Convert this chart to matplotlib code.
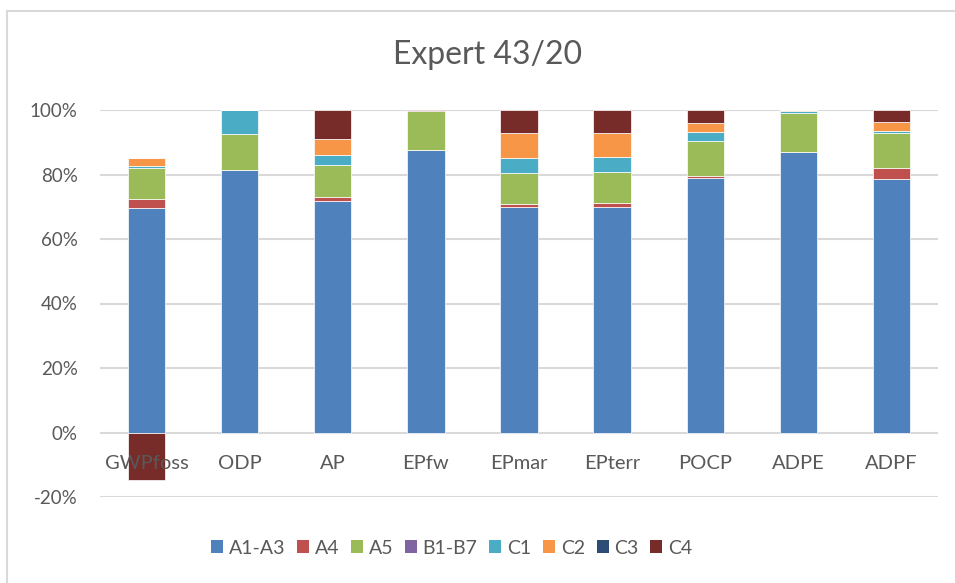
import matplotlib
matplotlib.use("Agg")
import matplotlib.pyplot as plt
import numpy as np
from matplotlib.patches import Patch
from matplotlib.lines import Line2D

categories = ["GWPfoss", "ODP", "AP", "EPfw", "EPmar", "EPterr", "POCP", "ADPE", "ADPF"]
series_names = ["A1-A3", "A4", "A5", "B1-B7", "C1", "C2", "C3", "C4"]
colors = ["#4F81BD", "#C0504D", "#9BBB59", "#8064A2", "#4BACC6", "#F79646", "#2C4D75", "#772C2A"]

a1_a3 = [69.5, 81.5, 71.8, 87.6, 69.8, 69.8, 79.0, 87.1, 78.5]
a4    = [3.0, 0.0, 1.3, 0.0, 1.1, 1.3, 0.6, 0.0, 3.5]
a5    = [9.4, 11.2, 9.7, 12.0, 9.6, 9.6, 10.8, 12.1, 10.8]
b1_b7 = [0.0, 0.0, 0.0, 0.0, 0.0, 0.0, 0.0, 0.0, 0.0]
c1    = [0.7, 7.3, 3.3, 0.0, 4.7, 4.6, 2.7, 0.5, 0.8]
c2    = [2.6, 0.0, 4.9, 0.2, 7.6, 7.5, 2.8, 0.3, 2.7]
c3    = [0.0, 0.0, 0.0, 0.0, 0.0, 0.0, 0.0, 0.0, 0.0]
c4    = [-14.8, 0.0, 9.0, 0.2, 7.2, 7.2, 4.1, 0.0, 3.7]
series = [a1_a3, a4, a5, b1_b7, c1, c2, c3, c4]

yticks = [-20, 0, 20, 40, 60, 80, 100]
ytick_labels = ["-20%", "0%", "20%", "40%", "60%", "80%", "100%"]

plt.rcParams['font.family'] = ['Lato', 'DejaVu Sans']
txt = "#595959"
grid = "#D9D9D9"

fig = plt.figure(figsize=(9.55, 5.83), dpi=100)
ax = fig.add_axes([100/955, 1-497/583, (938-100)/955, (497-110)/583])

x = np.arange(len(categories))
pos_base = np.zeros(len(categories))
neg_base = np.zeros(len(categories))
for name, vals, col in zip(series_names, series, colors):
    v = np.array(vals, dtype=float)
    bottoms = np.where(v >= 0, pos_base, neg_base)
    ax.bar(x, v, width=0.4, bottom=bottoms, color=col, edgecolor="#FFFFFF",
           linewidth=0.5, zorder=3)
    pos_base += np.where(v >= 0, v, 0)
    neg_base += np.where(v < 0, v, 0)

ax.set_xlim(-0.5, len(categories) - 0.5)
ax.set_ylim(-20, 100)
ax.set_yticks(yticks)
ax.set_yticklabels(ytick_labels)
ax.tick_params(axis='y', length=0, pad=16, labelsize=13.5, labelcolor=txt)
ax.set_xticks([])
for s in ax.spines.values():
    s.set_visible(False)
ax.yaxis.grid(True, color=grid, linewidth=1.5, zorder=0)
ax.set_axisbelow(True)

for i, c in enumerate(categories):
    ax.annotate(c, xy=(i, 0), xytext=(0, -22), textcoords='offset points',
                ha='center', va='center', fontsize=14.5, color=txt, zorder=4)

fig.text(487.5/955, 1-55/583, "Expert 43/20", ha='center', va='center',
         fontsize=23, color=txt)

handles = [Patch(facecolor=c, edgecolor='none') for c in colors]
fig.legend(handles, series_names, loc='center', bbox_to_anchor=(451.5/955, 1-548/583),
           ncol=8, frameon=False, fontsize=14, labelcolor=txt,
           handlelength=0.62, handleheight=0.62, handletextpad=0.3, columnspacing=0.6)

# chart area border
fig.add_artist(Line2D([7/955, 7/955], [0, 1-11/583], color=grid, linewidth=1.5))
fig.add_artist(Line2D([7/955, 1], [1-11/583, 1-11/583], color=grid, linewidth=1.5))

fig.savefig("out.png", dpi=100)
